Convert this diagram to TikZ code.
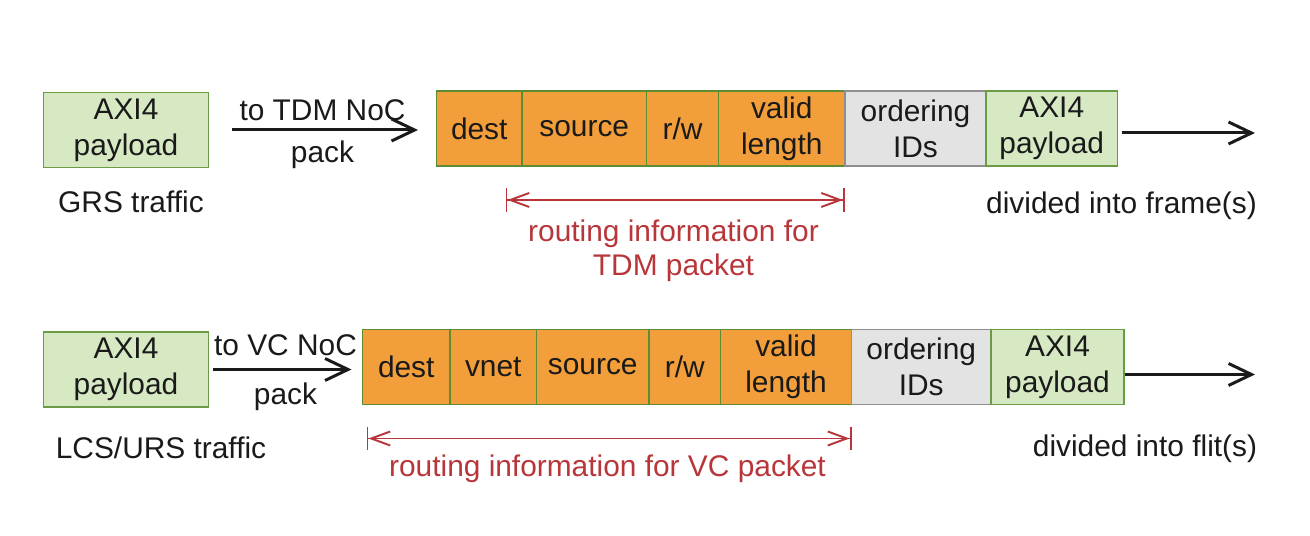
\documentclass[tikz,border=0pt]{standalone}
\usepackage{fontspec}
\setmainfont{Liberation Sans}
\usetikzlibrary{positioning,arrows.meta}

\definecolor{hdrorange}{HTML}{F29E3A}
\definecolor{hdrline}{HTML}{5E8C33}
\definecolor{payfill}{HTML}{D6E9C3}
\definecolor{payline}{HTML}{6B9C45}
\definecolor{idfill}{HTML}{E3E3E3}
\definecolor{idline}{HTML}{8F8F8F}
\definecolor{routered}{HTML}{B8363A}
\definecolor{inkblack}{HTML}{1A1A1A}

\newcommand{\diagfont}{\fontsize{17}{20.5}\selectfont}
\newcommand{\redfont}{\fontsize{17}{19.5}\selectfont}

\tikzset{
  box/.style={line width=1pt, minimum height=1.5cm, inner sep=0pt, outer sep=0pt, align=center, font=\diagfont, text=inkblack},
  hdr/.style={box, draw=hdrline, fill=hdrorange},
  ids/.style={box, draw=idline, fill=idfill},
  payload/.style={box, draw=payline, fill=payfill},
  flow/.style={line width=1.7pt, inkblack, -{Straight Barb[length=0.46cm,width=0.44cm]}},
  span/.style={line width=1.1pt, routered, {Bar[width=0.47cm]Straight Barb[length=0.38cm,width=0.28cm]}-{Straight Barb[length=0.38cm,width=0.28cm]Bar[width=0.47cm]}},
  note/.style={font=\diagfont, text=inkblack, inner sep=0pt},
  rednote/.style={font=\redfont, text=routered, inner sep=0pt, align=center},
}

\begin{document}
\begin{tikzpicture}
        \useasboundingbox (0,0) rectangle (26.2,10.72);

        % GRS traffic -> TDM packet
        \node[payload, minimum width=3.3cm] (pay1) at (2.52,8.12) {AXI4\\payload};
        \node[hdr, minimum width=1.71cm, anchor=west] (dest1) at (8.73,8.15) {dest};
        \node[hdr, minimum width=2.49cm, right=0pt of dest1] (src1) {source};
        \node[hdr, minimum width=1.44cm, right=0pt of src1] (rw1) {r/w};
        \node[hdr, minimum width=2.53cm, right=0pt of rw1] (len1) {valid\\length};
        \node[ids, minimum width=2.82cm, right=0pt of len1] (ids1) {ordering\\IDs};
        \node[payload, minimum width=2.63cm, right=0pt of ids1] (payr1) {AXI4\\payload};

        \draw[flow, shorten <=0.47cm, shorten >=0.37cm] (pay1.east) -- (pay1.east -| dest1.west)
            node[midway, above=4.6pt, note] {to TDM NoC}
            node[midway, below=5.4pt, note] {pack};
        \coordinate (out1) at (25.1,8.06);
        \draw[flow, shorten <=0.08cm] (payr1.east |- out1) -- (out1);

        \node[note, anchor=base] (grs) at (2.62,6.46) {GRS traffic};
        \node[note, anchor=base] (frames) at (22.43,6.45) {divided into frame(s)};
        \coordinate (span1) at (10.11,6.72);
        \draw[span] (span1) -- (span1 -| len1.east);
        \node[rednote] (tdmnote) at (13.47,5.70) {routing information for\\TDM packet};

        % LCS/URS traffic -> VC packet
        \node[payload, minimum width=3.3cm] (pay2) at (2.52,3.33) {AXI4\\payload};
        \node[hdr, minimum width=1.75cm, anchor=west] (dest2) at (7.25,3.38) {dest};
        \node[hdr, minimum width=1.73cm, right=0pt of dest2] (vnet2) {vnet};
        \node[hdr, minimum width=2.25cm, right=0pt of vnet2] (src2) {source};
        \node[hdr, minimum width=1.43cm, right=0pt of src2] (rw2) {r/w};
        \node[hdr, minimum width=2.62cm, right=0pt of rw2] (len2) {valid\\length};
        \node[ids, minimum width=2.79cm, right=0pt of len2] (ids2) {ordering\\IDs};
        \node[payload, minimum width=2.66cm, right=0pt of ids2] (payr2) {AXI4\\payload};

        \draw[flow, shorten <=0.09cm, shorten >=0.22cm] (pay2.east) -- (pay2.east -| dest2.west)
            node[midway, above=7pt, note] {to VC NoC}
            node[midway, below=7pt, note] {pack};
        \coordinate (out2) at (25.1,3.23);
        \draw[flow, shorten <=0.02cm] (payr2.east |- out2) -- (out2);

        \node[note, anchor=base] (lcs) at (3.22,1.55) {LCS/URS traffic};
        \node[note, anchor=base] (flits) at (22.9,1.59) {divided into flit(s)};
        \coordinate (span2) at (7.33,1.95);
        \draw[span] (span2) -- (span2 -| len2.east);
        \node[rednote, anchor=base] (vcnote) at (12.15,1.19) {routing information for VC packet};
    \end{tikzpicture}
\end{document}
